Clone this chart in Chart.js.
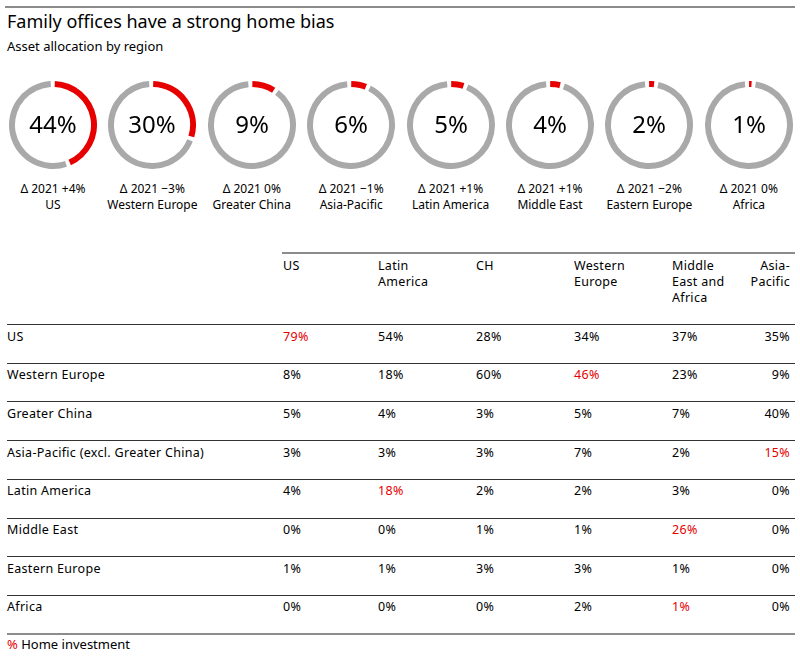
<!DOCTYPE html>
<html>
<head>
<meta charset="utf-8">
<script src="https://cdn.jsdelivr.net/npm/chart.js@4.4.0/dist/chart.umd.min.js"></script>
<style>
  body { margin: 0; background: #fff; font-family: "Noto Sans", "Open Sans", sans-serif; color: #000; }
  #wrap { position: relative; width: 800px; height: 658px; overflow: hidden; }
  .abs { position: absolute; white-space: nowrap; }
  .hline { position: absolute; height: 0; }
  .lbl { position: absolute; width: 110px; text-align: center; font-size: 12px; line-height: 16px; white-space: nowrap; }
  .cell { position: absolute; font-size: 12.5px; line-height: 16px; white-space: pre; letter-spacing: 0.3px; }
  .red { color: #e60000; }
</style>
</head>
<body>
<div id="wrap">
  <div class="hline" style="left:5px;top:6px;width:790px;border-top:2px solid #8c8c8c"></div>
  <div class="abs" style="left:7px;top:9px;font-size:18px;line-height:24px">Family offices have a strong home bias</div>
  <div class="abs" style="left:7px;top:37px;font-size:13px;line-height:18px">Asset allocation by region</div>
  <div class="abs" style="left:7px;top:636px;font-size:13px;line-height:17px"><span class="red">%</span> Home investment</div>
</div>
<script>
/* donas de arriba */
const regions = ["US", "Western Europe", "Greater China", "Asia-Pacific", "Latin America", "Middle East", "Eastern Europe", "Africa"];
const shares = [44, 30, 9, 6, 5, 4, 2, 1];
const changes = ["+4%", "\u22123%", "0%", "\u22121%", "+1%", "+1%", "\u22122%", "0%"];

/* tabla de abajo */
const colHeads = ["US", "Latin\nAmerica", "CH", "Western\nEurope", "Middle\nEast and\nAfrica", "Asia-\nPacific"];
const rowHeads = ["US", "Western Europe", "Greater China", "Asia-Pacific (excl. Greater China)", "Latin America", "Middle East", "Eastern Europe", "Africa"];
const allocation = [
  [79, 54, 28, 34, 37, 35],
  [8, 18, 60, 46, 23, 9],
  [5, 4, 3, 5, 7, 40],
  [3, 3, 3, 7, 2, 15],
  [4, 18, 2, 2, 3, 0],
  [0, 0, 1, 1, 26, 0],
  [1, 1, 3, 3, 1, 0],
  [0, 0, 0, 2, 1, 0],
];
// columna "home investment" por fila (null = ninguna)
const homeCol = [0, 3, null, 5, 1, 4, null, 4];

const RED = "#e60000";
const GRAY = "#a9a9a9";
const wrap = document.getElementById("wrap");

const centerText = {
  id: "centerText",
  afterDraw(chart, args, opts) {
    const { ctx, chartArea } = chart;
    const x = (chartArea.left + chartArea.right) / 2;
    const y = (chartArea.top + chartArea.bottom) / 2;
    ctx.save();
    ctx.font = '24px "Noto Sans", "Open Sans", sans-serif';
    ctx.fillStyle = "#000";
    ctx.textAlign = "center";
    ctx.textBaseline = "middle";
    ctx.fillText(opts.text, x, y + 1);
    ctx.restore();
  },
};

regions.forEach((region, i) => {
  const cx = 53 + i * 99.4;
  const cy = 125;
  const canvas = document.createElement("canvas");
  canvas.width = 88;
  canvas.height = 88;
  canvas.style.position = "absolute";
  canvas.style.left = (cx - 44) + "px";
  canvas.style.top = (cy - 44) + "px";
  wrap.appendChild(canvas);

  new Chart(canvas.getContext("2d"), {
    type: "doughnut",
    data: {
      labels: [region, "Rest"],
      datasets: [{
        data: [shares[i], 100 - shares[i]],
        backgroundColor: [RED, GRAY],
        borderWidth: 0,
        spacing: 2.5,
      }],
    },
    options: {
      responsive: false,
      animation: false,
      cutout: "86%",
      layout: { padding: 0 },
      plugins: {
        legend: { display: false },
        tooltip: { enabled: false },
        centerText: { text: shares[i] + "%" },
      },
    },
    plugins: [centerText],
  });

  // dos lineas separadas para que no se monten
  const l1 = document.createElement("div");
  l1.className = "lbl";
  l1.style.left = (cx - 55) + "px";
  l1.style.top = "181px";
  l1.textContent = "\u0394 2021 " + changes[i];
  wrap.appendChild(l1);

  const l2 = document.createElement("div");
  l2.className = "lbl";
  l2.style.left = (cx - 55) + "px";
  l2.style.top = "197px";
  l2.textContent = region;
  wrap.appendChild(l2);
});

/* tabla */
const colLeft = [283, 378, 476, 574, 672];
const lastRight = 790;
const headerTop = 253;
const firstRow = 324;
const rowH = 38.7;

const addLine = (left, top, width, style) => {
  const d = document.createElement("div");
  d.className = "hline";
  d.style.left = left + "px";
  d.style.top = top + "px";
  d.style.width = width + "px";
  d.style.borderTop = style;
  wrap.appendChild(d);
};

const addCell = (text, top, i, isRed) => {
  const d = document.createElement("div");
  d.className = "cell" + (isRed ? " red" : "");
  d.textContent = text;
  d.style.top = top + "px";
  if (i < colLeft.length) {
    d.style.left = colLeft[i] + "px";
  } else {
    d.style.right = (800 - lastRight) + "px";
    d.style.textAlign = "right";
  }
  wrap.appendChild(d);
};

addLine(282, headerTop - 1, 513, "2px solid #8c8c8c");
colHeads.forEach((h, i) => addCell(h, headerTop + 5, i, false));

rowHeads.forEach((rh, r) => {
  const top = firstRow + r * rowH;
  addLine(7, Math.round(top), 788, "1.5px solid #333");
  const head = document.createElement("div");
  head.className = "cell";
  head.textContent = rh;
  head.style.left = "7px";
  head.style.top = (top + 4.5) + "px";
  wrap.appendChild(head);
  allocation[r].forEach((v, c) => addCell(v + "%", top + 4.5, c, homeCol[r] === c));
});
addLine(7, Math.round(firstRow + rowHeads.length * rowH) - 1, 788, "2px solid #8c8c8c");
</script>
</body>
</html>
